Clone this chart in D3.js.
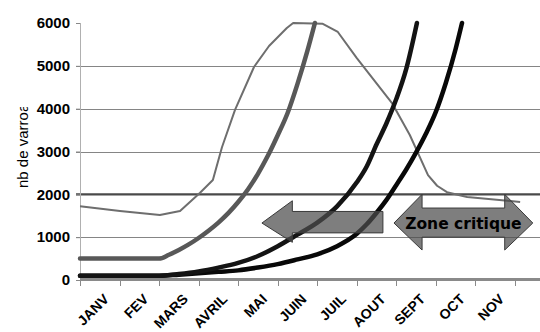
<!DOCTYPE html>
<html>
<head>
<meta charset="utf-8">
<script src="https://cdn.jsdelivr.net/npm/d3@7"></script>
<style>
  html, body { margin: 0; padding: 0; background: #fff; }
  svg { display: block; }
</style>
</head>
<body>
<svg id="chart" width="540" height="332"></svg>
<script>
// ---- data ----
const months = ["JANV", "FEV", "MARS", "AVRIL", "MAI", "JUIN", "JUIL", "AOUT", "SEPT", "OCT", "NOV"];
const yTicks = [0, 1000, 2000, 3000, 4000, 5000, 6000];
const seuil = 2000;

// bell-shaped population curve (month position, value)
const bellT = [0, 1.01, 2.02, 2.53, 3.03, 3.36, 3.59, 3.92, 4.40, 4.78, 5.23, 5.39, 6.14, 6.52, 7.00, 7.89, 8.34, 8.80, 9.03, 9.28, 9.79, 11.13];
const bellV = [1720, 1610, 1518, 1610, 2030, 2335, 3100, 3970, 4973, 5463, 5884, 6000, 5980, 5790, 5180, 4130, 3385, 2450, 2200, 2050, 1940, 1820];

// grey thick curve starting at 500
const greyT = [0, 1.0, 2.0, 2.25, 2.5, 2.75, 3.0, 3.25, 3.5, 3.75, 4.0, 4.25, 4.5, 4.75, 5.0, 5.25, 5.5, 5.75, 5.94];
const greyV = [500, 500, 500, 590, 700, 830, 980, 1150, 1340, 1560, 1820, 2120, 2480, 2900, 3380, 3900, 4580, 5350, 6000];

// black curve 1 (upper)
const black1T = [0, 1.0, 2.0, 2.5, 3.0, 3.5, 4.0, 4.5, 5.0, 5.5, 6.0, 6.5, 7.0, 7.25, 7.5, 7.75, 8.0, 8.25, 8.52];
const black1V = [100, 100, 100, 140, 200, 290, 400, 560, 790, 1060, 1340, 1720, 2280, 2650, 3170, 3660, 4230, 4930, 6000];

// black curve 2 (lower)
const black2T = [0, 1.0, 2.0, 2.5, 3.0, 3.5, 4.0, 4.5, 5.0, 5.5, 6.0, 6.5, 7.0, 7.25, 7.5, 7.75, 8.0, 8.25, 8.5, 8.75, 9.0, 9.25, 9.5, 9.66];
const black2V = [100, 100, 100, 125, 155, 190, 225, 290, 370, 480, 600, 790, 1080, 1300, 1570, 1870, 2220, 2580, 2980, 3420, 3930, 4600, 5400, 6000];

// annotation arrows (month position / value)
const arrowLeft = { tip: [4.6, 1330], headBack: 5.37, headTop: 1850, headBottom: 880, shaftTop: 1600, shaftBottom: 1100, end: 7.66 };
const arrowBoth = { tipL: [7.94, 1330], backL: 8.65, backR: 10.74, tipR: [11.45, 1330], headTop: 2000, headBottom: 700, shaftTop: 1680, shaftBottom: 1000, label: "Zone critique" };
const yTitle = "nb de varroa";

// ---- layout ----
const svg = d3.select("#chart");
const x = d3.scaleLinear().domain([0, 11]).range([80, 515]);
const y = d3.scaleLinear().domain([0, 6000]).range([280, 23]);
const plotRight = 540;

const font = "'Liberation Sans', Arial, sans-serif";

// gridlines
svg.append("g").selectAll("line").data(yTicks.filter(v => v !== 0 && v !== 6000 && v !== seuil))
  .join("line")
  .attr("x1", 76).attr("x2", plotRight)
  .attr("y1", d => Math.round(y(d)) + 0.5).attr("y2", d => Math.round(y(d)) + 0.5)
  .attr("stroke", "#858585").attr("stroke-width", 1);

// threshold line
svg.append("line")
  .attr("x1", 76).attr("x2", plotRight)
  .attr("y1", y(seuil)).attr("y2", y(seuil))
  .attr("stroke", "#4a4a4a").attr("stroke-width", 2.2);

// y axis
const yAxis = svg.append("g").attr("transform", "translate(80,0)")
  .call(d3.axisLeft(y).tickValues(yTicks).tickSize(4).tickPadding(6).tickFormat(d3.format("d")));
yAxis.select(".domain").remove();
yAxis.selectAll(".tick line").attr("stroke", "#888");
yAxis.selectAll(".tick text")
  .attr("font-family", font).attr("font-weight", "bold").attr("font-size", 15)
  .attr("fill", "#000");
svg.append("line").attr("x1", 80.5).attr("x2", 80.5).attr("y1", 23).attr("y2", 280)
  .attr("stroke", "#b0b0b0").attr("stroke-width", 1);

// y title (clipped at top as in the original)
svg.append("clipPath").attr("id", "ytclip").append("rect")
  .attr("x", 0).attr("y", 107).attr("width", 40).attr("height", 100);
svg.append("g").attr("clip-path", "url(#ytclip)")
  .append("text")
  .attr("transform", "translate(28,188) rotate(-90)")
  .attr("font-family", font).attr("font-size", 15).attr("fill", "#000")
  .text(yTitle);

// lines
const zip = (t, v) => t.map((d, i) => [d, v[i]]);
const straight = d3.line().x(d => x(d[0])).y(d => y(d[1]));
const smooth = d3.line().x(d => x(d[0])).y(d => y(d[1])).curve(d3.curveMonotoneX);

svg.append("path").datum(zip(bellT, bellV))
  .attr("d", straight)
  .attr("fill", "none").attr("stroke", "#6e6e6e").attr("stroke-width", 2)
  .attr("stroke-linejoin", "round");

svg.append("path").datum(zip(greyT, greyV))
  .attr("d", smooth)
  .attr("fill", "none").attr("stroke", "#585858").attr("stroke-width", 4.5)
  .attr("stroke-linecap", "round");
svg.append("path").datum(zip(black2T, black2V))
  .attr("d", smooth)
  .attr("fill", "none").attr("stroke", "#080808").attr("stroke-width", 4.5)
  .attr("stroke-linecap", "round");
svg.append("path").datum(zip(black1T, black1V))
  .attr("d", smooth)
  .attr("fill", "none").attr("stroke", "#141414").attr("stroke-width", 4.5)
  .attr("stroke-linecap", "round");

// x axis
svg.append("line").attr("x1", 80).attr("x2", plotRight).attr("y1", 279.5).attr("y2", 279.5)
  .attr("stroke", "#8a8a8a").attr("stroke-width", 3);
svg.append("g").selectAll("line").data(d3.range(months.length + 1))
  .join("line")
  .attr("x1", d => Math.round(x(d)) + 0.5).attr("x2", d => Math.round(x(d)) + 0.5)
  .attr("y1", 280).attr("y2", 286)
  .attr("stroke", "#8a8a8a").attr("stroke-width", 1);
svg.append("g").selectAll("text").data(months)
  .join("text")
  .attr("transform", (d, i) => `translate(${x(i + 0.5) + 10},300) rotate(-45)`)
  .attr("text-anchor", "end")
  .attr("font-family", font).attr("font-weight", "bold").attr("font-size", 14)
  .attr("fill", "#000")
  .text(d => d);

// arrows
const A = arrowLeft;
const ptsL = [
  [x(A.tip[0]), y(A.tip[1])],
  [x(A.headBack), y(A.headTop)],
  [x(A.headBack), y(A.shaftTop)],
  [x(A.end), y(A.shaftTop)],
  [x(A.end), y(A.shaftBottom)],
  [x(A.headBack), y(A.shaftBottom)],
  [x(A.headBack), y(A.headBottom)]
];
svg.append("polygon").attr("points", ptsL.map(p => p.join(",")).join(" "))
  .attr("fill", "#4c4c4c").attr("fill-opacity", 0.72)
  .attr("stroke", "#3a3a3a").attr("stroke-width", 1);

const B = arrowBoth;
const ptsB = [
  [x(B.tipL[0]), y(B.tipL[1])],
  [x(B.backL), y(B.headTop)],
  [x(B.backL), y(B.shaftTop)],
  [x(B.backR), y(B.shaftTop)],
  [x(B.backR), y(B.headTop)],
  [x(B.tipR[0]), y(B.tipR[1])],
  [x(B.backR), y(B.headBottom)],
  [x(B.backR), y(B.shaftBottom)],
  [x(B.backL), y(B.shaftBottom)],
  [x(B.backL), y(B.headBottom)]
];
svg.append("polygon").attr("points", ptsB.map(p => p.join(",")).join(" "))
  .attr("fill", "#4c4c4c").attr("fill-opacity", 0.72)
  .attr("stroke", "#3a3a3a").attr("stroke-width", 1);
svg.append("text")
  .attr("x", (x(B.tipL[0]) + x(B.tipR[0])) / 2).attr("y", y(B.tipL[1]) + 6)
  .attr("text-anchor", "middle")
  .attr("font-family", "'DejaVu Sans', Verdana, sans-serif").attr("font-weight", "bold")
  .attr("font-size", 15.5).attr("fill", "#000")
  .text(B.label);
</script>
</body>
</html>
